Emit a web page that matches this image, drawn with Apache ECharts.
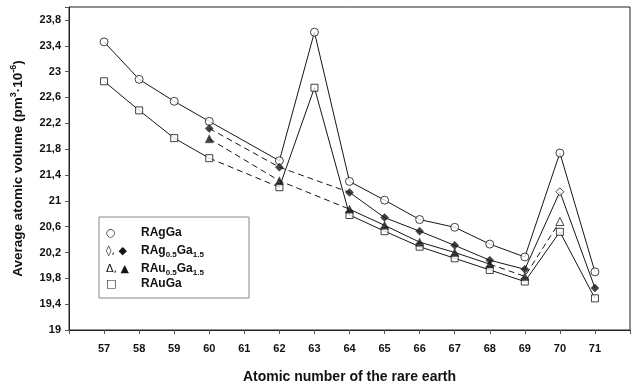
<!DOCTYPE html>
<html lang="en">
<head>
    <meta charset="UTF-8">
    <title>Average atomic volume</title>
    <style>
        html, body { margin: 0; padding: 0; background: #fff; }
        #main { width: 633px; height: 389px; }
    </style>
</head>
<body>
    <div id="main"></div>
    <script src="https://cdn.jsdelivr.net/npm/echarts@6/dist/echarts.min.js"></script>
    <script>
        // atomic number of the rare earth (no point at 61, Pm)
        var atomicNumbers = [57, 58, 59, 60, 62, 63, 64, 65, 66, 67, 68, 69, 70, 71];
        var agGa = [23.46, 22.88, 22.54, 22.23, 21.62, 23.61, 21.30, 21.01, 20.71, 20.59, 20.33, 20.13, 21.74, 19.90];
        var auGa = [22.85, 22.40, 21.97, 21.66, 21.21, 22.75, 20.78, 20.53, 20.29, 20.11, 19.93, 19.75, 20.52, 19.49];

        var ag05Numbers = [60, 62, 64, 65, 66, 67, 68, 69, 70, 71];
        var ag05Ga15 = [22.12, 21.52, 21.13, 20.74, 20.53, 20.31, 20.08, 19.94, 21.14, 19.65];

        var au05Numbers = [60, 62, 64, 65, 66, 67, 68, 69, 70];
        var au05Ga15 = [21.96, 21.31, 20.87, 20.62, 20.36, 20.20, 20.02, 19.83, 20.68];

        // the point at Yb (70) is drawn with an open symbol for the mixed phases
        var openAt = 70;

        // parts of the curves drawn dashed, as [from, to] atomic numbers
        var agGaDashed = [];
        var auGaDashed = [[60, 62]];
        var ag05Dashed = [[60, 64]];
        var au05Dashed = [[60, 64], [68, 70]];

        var ink = '#151515';

        function isDashed(ranges, a, b) {
            return ranges.some(function (r) { return a >= r[0] && b <= r[1]; });
        }

        // split one curve into runs of solid / dashed segments + one scatter for symbols
        function buildCurve(xs, ys, dashed, symbol, size, filled) {
            var out = [];
            var run = null;
            for (var i = 0; i < xs.length - 1; i++) {
                var d = isDashed(dashed, xs[i], xs[i + 1]);
                if (!run || run.d !== d) {
                    run = { d: d, pts: [[xs[i], ys[i]]] };
                    out.push(run);
                }
                run.pts.push([xs[i + 1], ys[i + 1]]);
            }
            var series = out.map(function (r) {
                return {
                    type: 'line',
                    data: r.pts,
                    symbol: 'none',
                    silent: true,
                    z: 2,
                    lineStyle: { color: ink, width: 1, type: r.d ? [6, 4] : 'solid' }
                };
            });
            series.push({
                type: 'scatter',
                symbol: symbol,
                symbolSize: size,
                z: 3,
                data: xs.map(function (x, i) {
                    var open = !filled || x === openAt;
                    return {
                        value: [x, ys[i]],
                        itemStyle: open
                            ? { color: '#fff', borderColor: ink, borderWidth: 1 }
                            : { color: ink, borderColor: ink, borderWidth: 0.5 }
                    };
                })
            });
            return series;
        }

        var series = [].concat(
            buildCurve(atomicNumbers, agGa, agGaDashed, 'circle', 8, false),
            buildCurve(atomicNumbers, auGa, auGaDashed, 'rect', 7, false),
            buildCurve(au05Numbers, au05Ga15, au05Dashed, 'triangle', 8, true),
            buildCurve(ag05Numbers, ag05Ga15, ag05Dashed, 'diamond', 8, true)
        );

        var myChart = echarts.init(document.getElementById('main'));

        var labelFont = { fontFamily: 'Liberation Sans, Arial', fontWeight: 'bold', color: '#111' };
        var legX = 99, legY = 217;
        var rich = {
            b: { fontSize: 12, fontWeight: 'bold', fontFamily: 'Liberation Sans', lineHeight: 14, verticalAlign: 'top' },
            s: { fontSize: 8, fontWeight: 'bold', fontFamily: 'Liberation Sans', lineHeight: 10, verticalAlign: 'bottom', padding: [6, 0, 0, 0] }
        };

        function legendRow(y, sym, label) {
            return [
                { type: 'text', left: legX + 7, top: y, style: { text: sym, fontSize: 11, fontFamily: 'DejaVu Sans', fill: ink } },
                { type: 'text', left: legX + 42, top: y - 1, style: { text: label, rich: rich, fill: '#111' } }
            ];
        }

        var option = {
            animation: false,
            grid: { left: 69, top: 7, width: 568, height: 324, show: true, borderColor: '#222', borderWidth: 1 },
            xAxis: {
                type: 'value',
                min: 56,
                max: 72,
                interval: 1,
                name: 'Atomic number of the rare earth',
                nameLocation: 'middle',
                nameGap: 40,
                nameTextStyle: { fontSize: 14, fontWeight: 'bold', fontFamily: 'Liberation Sans', color: '#111' },
                axisLine: { lineStyle: { color: '#222' } },
                axisTick: { length: 4, lineStyle: { color: '#555' } },
                splitLine: { show: false },
                axisLabel: Object.assign({
                    fontSize: 11, margin: 13,
                    formatter: function (v) { return (v === 56 || v === 72) ? '' : String(v); }
                }, labelFont)
            },
            yAxis: {
                type: 'value',
                min: 19,
                max: 24,
                interval: 0.4,
                name: '{a|Average atomic volume (pm}{u|3}{a|·10}{u|-6}{a|)}',
                nameLocation: 'middle',
                nameGap: 44,
                nameTextStyle: {
                    rich: {
                        a: { fontSize: 13.5, fontWeight: 'bold', fontFamily: 'Liberation Sans', color: '#111', lineHeight: 16, verticalAlign: 'bottom' },
                        u: { fontSize: 9, fontWeight: 'bold', fontFamily: 'Liberation Sans', color: '#111', lineHeight: 10, verticalAlign: 'top' }
                    }
                },
                axisLine: { show: true, lineStyle: { color: '#222' } },
                axisTick: { show: true, length: 4, lineStyle: { color: '#555' } },
                splitLine: { show: false },
                axisLabel: Object.assign({
                    fontSize: 11, margin: 8,
                    formatter: function (v) {
                        if (v >= 24) return '';
                        return String(Math.round(v * 10) / 10).replace('.', ',');
                    }
                }, labelFont)
            },
            graphic: [
                { type: 'rect', shape: { x: legX, y: legY, width: 150, height: 81 }, style: { fill: '#fff', stroke: '#888', lineWidth: 1 }, z: 10 }
            ].concat(
                legendRow(legY + 11, '○', '{b|RAgGa}'),
                legendRow(legY + 29, '◊, ◆', '{b|RAg}{s|0.5}{b|Ga}{s|1.5}'),
                legendRow(legY + 47, 'Δ, ▲', '{b|RAu}{s|0.5}{b|Ga}{s|1.5}'),
                legendRow(legY + 62, '□', '{b|RAuGa}')
            ).map(function (g, i) { if (i > 0) g.z = 11; return g; }),
            series: series
        };
        myChart.setOption(option);
    </script>
</body>
</html>
